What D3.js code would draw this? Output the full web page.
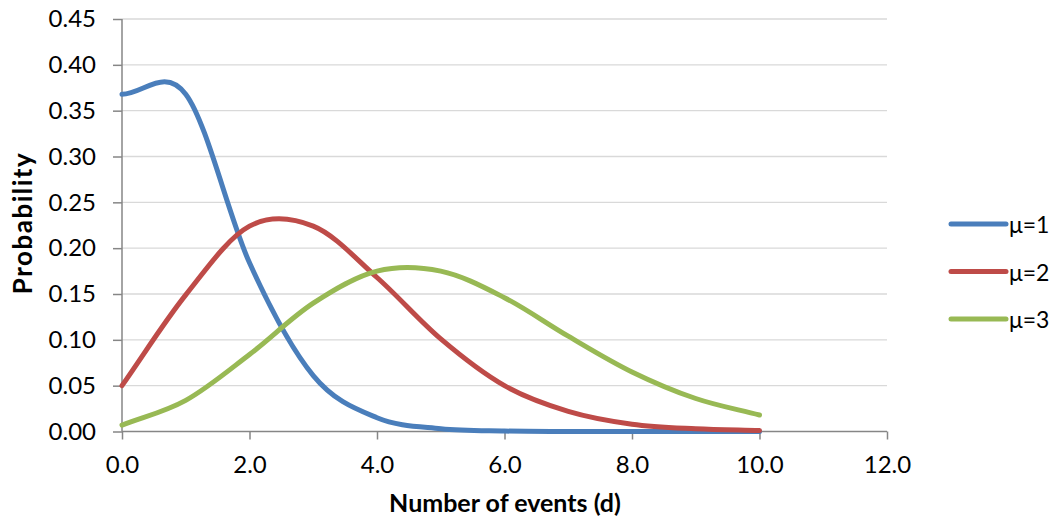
<!DOCTYPE html>
<html><head><meta charset="utf-8">
<script src="https://cdn.jsdelivr.net/npm/d3@7"></script>
<style>body{margin:0;background:#fff}text{font-family:Lato,"Open Sans",sans-serif}</style>
</head><body><svg id="c" width="1058" height="519"></svg>
<script>
const xs = [0,1,2,3,4,5,6,7,8,9,10];
const mu1 = [0.368,0.368,0.184,0.061,0.015,0.003,0.0005,0.0001,0,0,0];
const mu2 = [0.050,0.149,0.224,0.224,0.168,0.101,0.050,0.022,0.008,0.003,0.001];
const mu3 = [0.007,0.034,0.084,0.140,0.175,0.175,0.146,0.104,0.065,0.036,0.018];
const seriesNames = ["μ=1","μ=2","μ=3"];
const colors = ["#4a7ebb","#be4b48","#98b954"];
const xTicks = [0,2,4,6,8,10,12];
const yTicks = [0,0.05,0.10,0.15,0.20,0.25,0.30,0.35,0.40,0.45];

const svg = d3.select("#c");
const x = d3.scaleLinear().domain([0,12]).range([122,887]);
const y = d3.scaleLinear().domain([0,0.45]).range([431.5,19]);

// gridlines
svg.append("g").selectAll("line").data(yTicks.slice(1)).join("line")
  .attr("x1",122).attr("x2",887).attr("y1",d=>y(d)).attr("y2",d=>y(d))
  .attr("stroke","#d9d9d9").attr("stroke-width",1.3);

// y axis
const ya = svg.append("g").attr("transform","translate(122,0)")
  .call(d3.axisLeft(y).tickValues(yTicks).tickFormat(d3.format(".2f")).tickSize(9).tickPadding(17));
ya.select(".domain").attr("stroke","#868686").attr("stroke-width",1.5).attr("d","M0,19V431.5");
ya.selectAll(".tick line").attr("stroke","#868686").attr("stroke-width",1.5);
ya.selectAll("text").attr("font-size",24).attr("fill","#000").attr("font-family","Lato");

// x axis
const xa = svg.append("g").attr("transform","translate(0,431.5)")
  .call(d3.axisBottom(x).tickValues(xTicks).tickFormat(d3.format(".1f")).tickSize(8).tickPadding(16));
xa.select(".domain").attr("stroke","#868686").attr("stroke-width",1.5).attr("d","M122,0H887");
xa.selectAll(".tick line").attr("stroke","#868686").attr("stroke-width",1.5);
xa.selectAll("text").attr("font-size",24).attr("fill","#000").attr("font-family","Lato");

// smoothed lines (cardinal spline, Excel-like endpoint handling)
function smoothPath(vals){
  const p = vals.map((v,i)=>[x(xs[i]), y(v)]);
  const path = d3.path();
  path.moveTo(p[0][0], p[0][1]);
  const n = p.length;
  for(let i=0;i<n-1;i++){
    const a=p[i], b=p[i+1];
    let c1, c2;
    if(i===0) c1=[a[0]+(b[0]-a[0])/3, a[1]+(b[1]-a[1])/3];
    else c1=[a[0]+(b[0]-p[i-1][0])/6, a[1]+(b[1]-p[i-1][1])/6];
    if(i===n-2) c2=[b[0]-(b[0]-a[0])/3, b[1]-(b[1]-a[1])/3];
    else c2=[b[0]-(p[i+2][0]-a[0])/6, b[1]-(p[i+2][1]-a[1])/6];
    path.bezierCurveTo(c1[0],c1[1],c2[0],c2[1],b[0],b[1]);
  }
  return path.toString();
}
[mu1,mu2,mu3].forEach((s,k)=>{
  svg.append("path").attr("d",smoothPath(s)).attr("fill","none")
    .attr("stroke",colors[k]).attr("stroke-width",5).attr("stroke-linecap","round").attr("stroke-linejoin","round");
});

// axis titles
svg.append("text").attr("x",505).attr("y",512).attr("text-anchor","middle")
  .attr("font-size",25).attr("font-weight","bold").text("Number of events (d)");
svg.append("text").attr("transform","translate(32,223) rotate(-90)").attr("text-anchor","middle")
  .attr("font-size",26).attr("font-weight","bold").attr("letter-spacing",1.5).text("Probability");

// legend
const lg = svg.append("g");
seriesNames.forEach((n,k)=>{
  const yy = 224 + k*47.5;
  lg.append("line").attr("x1",951).attr("x2",1006).attr("y1",yy).attr("y2",yy)
    .attr("stroke",colors[k]).attr("stroke-width",5).attr("stroke-linecap","round");
  lg.append("text").attr("x",1009).attr("y",yy+9).attr("font-size",23).text(n);
});
</script></body></html>
